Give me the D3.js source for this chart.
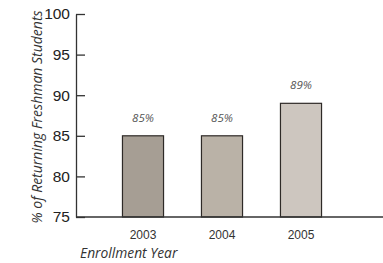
<!DOCTYPE html>
<html>
<head>
<meta charset="utf-8">
<script src="https://cdn.jsdelivr.net/npm/d3@7"></script>
<style>
  body { margin: 0; background: #fff; }
  svg { display: block; font-family: "Open Sans", sans-serif; }
</style>
</head>
<body>
<svg id="chart" width="383" height="263"></svg>
<script>
const years = ["2003", "2004", "2005"];
const values = [85, 85, 89];
const barColors = ["#a69e94", "#bab2a7", "#cdc6bf"];
const yTicks = [75, 80, 85, 90, 95, 100];

const width = 383, height = 263;
const margin = { top: 14, left: 76, bottom: 46 };

const svg = d3.select("#chart");

const x = d3.scaleBand()
  .domain(years)
  .range([103.5, 340.5])
  .paddingInner(0.48)
  .paddingOuter(0.24);

const y = d3.scaleLinear()
  .domain([75, 100])
  .range([height - margin.bottom, margin.top]);

// Bars
svg.selectAll("rect.bar")
  .data(years)
  .join("rect")
  .attr("class", "bar")
  .attr("x", d => x(d))
  .attr("y", (d, i) => y(values[i]))
  .attr("width", x.bandwidth())
  .attr("height", (d, i) => y(75) - y(values[i]))
  .attr("fill", (d, i) => barColors[i])
  .attr("stroke", "#2e2a27")
  .attr("stroke-width", 1.2);

// Value labels
svg.selectAll("text.val")
  .data(years)
  .join("text")
  .attr("class", "val")
  .attr("x", d => x(d) + x.bandwidth() / 2)
  .attr("y", (d, i) => y(values[i]) - 14)
  .attr("text-anchor", "middle")
  .attr("font-size", 11.5)
  .attr("font-style", "italic")
  .attr("fill", "#555")
  .text((d, i) => values[i] + "%");

// Y axis (ticks pointing inward)
const yAxis = svg.append("g")
  .attr("transform", `translate(${margin.left},0)`)
  .call(d3.axisRight(y).tickValues(yTicks).tickSize(9).tickSizeOuter(0));
yAxis.select(".domain").attr("stroke", "#333").attr("stroke-width", 1.3);
yAxis.selectAll(".tick line").attr("stroke", "#333").attr("stroke-width", 1.3);
yAxis.selectAll(".tick text")
  .attr("x", -6)
  .attr("text-anchor", "end")
  .attr("font-size", 15.5)
  .attr("fill", "#222");

// X baseline
svg.append("line")
  .attr("x1", margin.left)
  .attr("x2", width)
  .attr("y1", y(75))
  .attr("y2", y(75))
  .attr("stroke", "#333")
  .attr("stroke-width", 1.3);

// X labels
const xAxis = svg.append("g")
  .attr("transform", `translate(0,${y(75)})`)
  .call(d3.axisBottom(x).tickSize(0));
xAxis.select(".domain").remove();
xAxis.selectAll(".tick text")
  .attr("dy", "1.55em")
  .attr("font-size", 12)
  .attr("fill", "#333");

// Axis titles
svg.append("text")
  .attr("x", 80)
  .attr("y", 258)
  .attr("font-size", 13.8)
  .attr("font-style", "italic")
  .attr("fill", "#333")
  .text("Enrollment Year");

svg.append("text")
  .attr("transform", "translate(42,117) rotate(-90)")
  .attr("text-anchor", "middle")
  .attr("font-size", 14)
  .attr("font-style", "italic")
  .attr("fill", "#333")
  .text("% of Returning Freshman Students");
</script>
</body>
</html>
